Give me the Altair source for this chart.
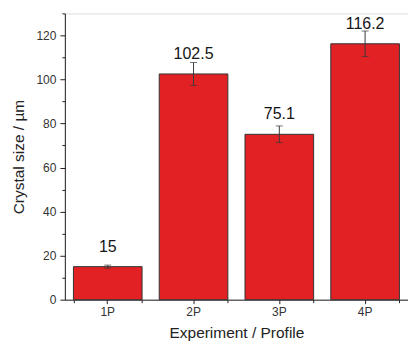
import altair as alt
import pandas as pd

categories = ["1P", "2P", "3P", "4P"]
sizes = [15.0, 102.5, 75.1, 116.2]
errors = [0.7, 5.2, 3.8, 5.8]
labels = ["15", "102.5", "75.1", "116.2"]
y_major = [0, 20, 40, 60, 80, 100, 120]
y_minor = [10, 30, 50, 70, 90, 110, 130]

df = pd.DataFrame({"cat": categories, "size": sizes, "err": errors, "label": labels})
df["lo"] = df["size"] - df["err"]
df["hi"] = df["size"] + df["err"]

FONT = "Liberation Sans"
AX = "#222222"
xscale = alt.Scale(paddingInner=0.2, paddingOuter=0.1)
yscale = alt.Scale(domain=[0, 130], nice=False, zero=True)

x_main = alt.X(
    "cat:N", sort=categories, scale=xscale,
    axis=alt.Axis(title="Experiment / Profile", labelAngle=0, tickSize=4, labelPadding=3,
                  titlePadding=8, labelFontSize=12, titleFontSize=15.5, labelColor="#333333",
                  titleColor=AX, titleFontWeight="normal", domainColor=AX, tickColor=AX,
                  labelFont=FONT, titleFont=FONT, orient="bottom"),
)
y_main = alt.Y(
    "size:Q", scale=yscale,
    axis=alt.Axis(title="Crystal size / µm", values=y_major, tickSize=5, labelPadding=4,
                  titlePadding=9, labelFontSize=12, titleFontSize=15.5, labelColor="#333333",
                  titleColor=AX, titleFontWeight="normal", domainColor=AX, tickColor=AX,
                  labelFont=FONT, titleFont=FONT, grid=False, orient="left"),
)

x_plain = alt.X("cat:N", sort=categories, scale=xscale, axis=None)

base = alt.Chart(df)

bars = base.mark_bar(color="#e22124", stroke="#333333", strokeWidth=1).encode(x=x_main, y=y_main)

minor = base.mark_bar(opacity=0).encode(
    x=alt.X("cat:N", sort=categories, scale=xscale,
            axis=alt.Axis(title=None, labels=False, tickBand="extent", tickSize=3, domain=False,
                          tickColor=AX, orient="bottom")),
    y=alt.Y("size:Q", scale=yscale,
            axis=alt.Axis(title=None, labels=False, values=y_minor, tickSize=3, domain=False,
                          tickColor=AX, grid=False, orient="left")),
)

rules = base.mark_rule(color="#3a3a3a", strokeWidth=1).encode(
    x=x_plain, y=alt.Y("lo:Q", scale=yscale, axis=None), y2="hi:Q")
caps_lo = base.mark_tick(color="#3a3a3a", size=7, thickness=1, orient="horizontal").encode(
    x=x_plain, y=alt.Y("lo:Q", scale=yscale, axis=None))
caps_hi = base.mark_tick(color="#3a3a3a", size=7, thickness=1, orient="horizontal").encode(
    x=x_plain, y=alt.Y("hi:Q", scale=yscale, axis=None))

text = base.mark_text(font=FONT, fontSize=16, color="#151515", dy=-15, baseline="alphabetic").encode(
    x=x_plain, y=alt.Y("size:Q", scale=yscale, axis=None), text="label:N")

chart = alt.layer(bars, minor, rules, caps_lo, caps_hi, text).resolve_axis(
    x="independent", y="independent"
).properties(
    width=344, height=287, padding={"left": 3, "top": 4, "right": 0, "bottom": 0}
).configure_view(stroke=AX, strokeWidth=1).configure(background="white")

chart.save("out.html", embed_options={"renderer": "svg", "actions": False})
